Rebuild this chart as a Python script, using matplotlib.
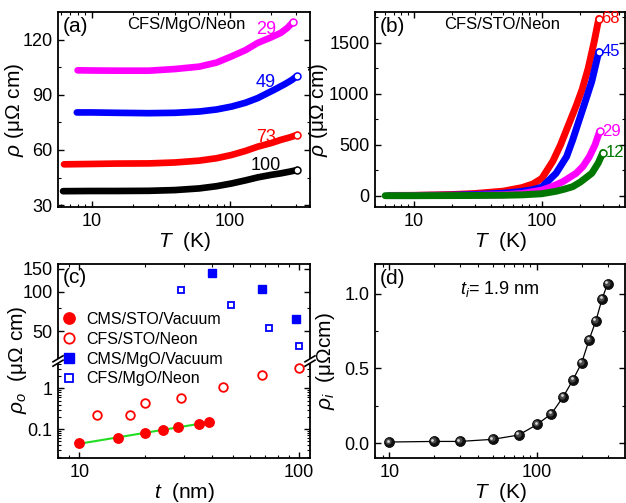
import numpy as np
import matplotlib
matplotlib.use("Agg")
import matplotlib.pyplot as plt
from matplotlib.lines import Line2D
from matplotlib.patches import Polygon
from matplotlib.transforms import offset_copy
from matplotlib.ticker import FixedLocator, NullFormatter, LogLocator

plt.rcParams['font.family'] = ['Liberation Sans', 'DejaVu Sans']
plt.rcParams['mathtext.fontset'] = 'custom'
plt.rcParams['mathtext.rm'] = 'Liberation Sans'
plt.rcParams['mathtext.it'] = 'Liberation Sans:italic'
plt.rcParams['axes.linewidth'] = 1.3

# ---- (a) CFS/MgO/Neon, rho vs T
a_T29 = [7.9, 10, 15, 26, 40, 60, 80, 103, 130, 159, 200, 234, 260, 286]
a_r29 = [103.3, 103.2, 103.1, 103.1, 104.0, 105.3, 107.5, 110.9, 114.3, 118.2, 121.3, 123.7, 126.3, 129.5]
a_T49 = [7.8, 10, 15, 26, 40, 60, 80, 103, 130, 159, 209, 250, 280, 304]
a_r49 = [80.4, 80.4, 80.2, 80.0, 80.2, 80.9, 82.0, 83.6, 85.7, 88.2, 92.7, 95.8, 98.0, 100.0]
a_T73 = [6.3, 10, 15, 26, 40, 60, 80, 103, 130, 159, 200, 234, 270, 308]
a_r73 = [52.2, 52.4, 52.6, 52.7, 53.2, 54.2, 55.5, 57.3, 59.5, 61.8, 63.8, 65.5, 66.8, 68.2]
a_T100 = [6.2, 10, 15, 26, 40, 60, 80, 103, 130, 159, 200, 234, 270, 308]
a_r100 = [37.6, 37.7, 37.7, 37.8, 38.2, 39.1, 40.3, 41.8, 43.5, 45.1, 46.5, 47.3, 48.2, 49.1]

# ---- (b) CFS/STO/Neon, rho vs T
b_T68 = [6.5, 10, 20, 30, 50, 70, 85, 100, 122, 140, 162, 185, 206, 230, 255, 278]
b_r68 = [3, 4, 12, 22, 45, 80, 115, 170, 340, 500, 700, 880, 1040, 1250, 1500, 1736]
b_T45 = [6.5, 10, 20, 30, 50, 67, 85, 100, 129, 156, 174, 192, 215, 245, 278]
b_r45 = [3, 3, 6, 12, 25, 40, 60, 85, 220, 384, 548, 712, 900, 1120, 1411]
b_T29 = [6.5, 10, 20, 30, 50, 70, 100, 120, 146, 185, 210, 235, 260, 282]
b_r29 = [2, 2, 3, 5, 10, 22, 55, 90, 138, 220, 290, 384, 500, 630]
b_T12 = [6.0, 10, 20, 30, 50, 70, 100, 130, 150, 174, 200, 245, 275, 299]
b_r12 = [1, 1, 2, 3, 5, 9, 20, 45, 65, 89, 135, 220, 320, 423]

# ---- (c) residual resistivity vs thickness
c_t_cms_sto = [10, 15, 20, 24, 28, 35, 39]
c_r_cms_sto = [0.0445, 0.061, 0.081, 0.093, 0.11, 0.133, 0.151]
c_t_cfs_sto = [12, 17, 20, 29, 45, 68, 100]
c_r_cfs_sto = [0.225, 0.225, 0.44, 0.59, 1.06, 2.13, 3.16]
c_t_cms_mgo = [40, 68, 97]
c_r_cms_mgo = [140, 104, 62]
c_t_cfs_mgo = [29, 49, 73, 100]
c_r_cfs_mgo = [103, 79, 52.5, 38.4]

# ---- (d) interface resistivity vs T
d_T = [10, 20, 30, 50, 75, 100, 125, 150, 175, 200, 225, 250, 275, 300]
d_r = [0.007, 0.011, 0.011, 0.025, 0.054, 0.125, 0.197, 0.309, 0.425, 0.537, 0.694, 0.821, 0.966, 1.069]

W, H = 626, 503
fig = plt.figure(figsize=(W / 100, H / 100), dpi=100)


def box(l, t, r, b):
    return [l / W, 1 - b / H, (r - l) / W, (b - t) / H]


def style(ax):
    ax.tick_params(which='both', direction='in', top=True, right=True, labelsize=13)
    ax.tick_params(which='major', length=4, width=1, pad=4)
    ax.tick_params(which='minor', length=2.5, width=0.8)


ylab = r'$\rho$ (μΩ cm)'
Tlab = r'$T$  (K)'
LAB = 15

# (a)
axa = fig.add_axes(box(58, 12, 310, 207))
for T, r, c in [(a_T29, a_r29, '#ff00ff'), (a_T49, a_r49, '#0000ff'),
                (a_T73, a_r73, '#ff0000'), (a_T100, a_r100, '#000000')]:
    axa.plot(T, r, color=c, lw=4.8, solid_capstyle='round')
    axa.plot(T[-1], r[-1], 'o', ms=5, mfc='white', mec=c, mew=1.1)
axa.set_xscale('log')
axa.set_xlim(5.7, 380)
axa.set_ylim(29, 135)
axa.set_yticks([30, 60, 90, 120])
axa.yaxis.set_minor_locator(FixedLocator([45, 75, 105]))
axa.set_xticks([10, 100])
axa.set_xticklabels(['10', '100'])
style(axa)
axa.set_ylabel(ylab, fontsize=LAB)
axa.yaxis.set_label_coords(-0.128, 0.5)
axa.set_xlabel(Tlab, fontsize=LAB, labelpad=0)
axa.text(0.02, 0.975, '(a)', transform=axa.transAxes, fontsize=15, va='top')
axa.text(0.51, 0.935, 'CFS/MgO/Neon', transform=axa.transAxes, fontsize=12,
         ha='center', va='center')
for lab, y, c in [('29', 125.5, '#ff00ff'), ('49', 96.5, '#0000ff'),
                  ('73', 67, '#ff0000'), ('100', 51.8, '#000000')]:
    axa.text(182, y, lab, fontsize=13, color=c, ha='center', va='center')

# (b)
axb = fig.add_axes(box(375, 12, 625, 207))
for T, r, c, lab in [(b_T68, b_r68, '#ff0000', '68'), (b_T45, b_r45, '#0000ff', '45'),
                     (b_T29, b_r29, '#ff00ff', '29'), (b_T12, b_r12, '#007700', '12')]:
    axb.plot(T, r, color=c, lw=5, solid_capstyle='round')
    axb.plot(T[-1], r[-1], 'o', ms=5, mfc='white', mec=c, mew=1.1)
    axb.annotate(lab, (T[-1], r[-1]), xytext=(2, 0), textcoords='offset points',
                 fontsize=12, color=c, va='center', ha='left')
axb.set_xscale('log')
axb.set_xlim(5, 445)
axb.set_ylim(-110, 1800)
axb.set_yticks([0, 500, 1000, 1500])
axb.yaxis.set_minor_locator(FixedLocator([250, 750, 1250, 1750]))
axb.set_xticks([10, 100])
axb.set_xticklabels(['10', '100'])
style(axb)
axb.set_ylabel(ylab, fontsize=LAB)
axb.yaxis.set_label_coords(-0.18, 0.5)
axb.set_xlabel(Tlab, fontsize=LAB, labelpad=0)
axb.text(0.02, 0.975, '(b)', transform=axb.transAxes, fontsize=15, va='top')
axb.text(0.51, 0.935, 'CFS/STO/Neon', transform=axb.transAxes, fontsize=12,
         ha='center', va='center')

# (c) broken log axis
axct = fig.add_axes(box(58, 264, 310, 361))
axcb = fig.add_axes(box(58, 361, 310, 458), sharex=axct)
red, blue = '#ff0000', '#0000ff'
h1, = axcb.plot(c_t_cms_sto, c_r_cms_sto, 'o', ms=6.8, color=red, mec=red, zorder=3)
h2, = axcb.plot(c_t_cfs_sto, c_r_cfs_sto, 'o', ms=6.2, mfc='white', mec=red, mew=1.3)
h3, = axct.plot(c_t_cms_mgo, c_r_cms_mgo, 's', ms=5.5, color=blue, mec=blue)
h4, = axct.plot(c_t_cfs_mgo, c_r_cfs_mgo, 's', ms=5, mfc='white', mec=blue, mew=1.3)
fit = np.polyfit(np.log10(c_t_cms_sto), np.log10(c_r_cms_sto), 1)
tt = np.array([c_t_cms_sto[0], c_t_cms_sto[-1]])
axcb.plot(tt, 10 ** np.polyval(fit, np.log10(tt)), color='#22dd22', lw=1.5, zorder=2)

axct.set_xscale('log')
axct.set_yscale('log')
axcb.set_yscale('log')
axct.set_xlim(8, 112)
axct.set_ylim(29.5, 163)
axcb.set_ylim(0.0194, 4.69)
axct.set_yticks([50, 100, 150])
axct.set_yticklabels(['50', '100', '150'])
axct.yaxis.set_minor_locator(FixedLocator([75]))
axct.yaxis.set_minor_formatter(NullFormatter())
axcb.set_yticks([0.1, 1])
axcb.set_yticklabels(['0.1', '1'])
axcb.yaxis.set_minor_locator(LogLocator(base=10, subs=np.arange(2, 10)))
axcb.yaxis.set_minor_formatter(NullFormatter())
axcb.set_xticks([10, 100])
axcb.set_xticklabels(['10', '100'])
style(axct)
style(axcb)
axct.spines['bottom'].set_visible(False)
axcb.spines['top'].set_visible(False)
axct.tick_params(which='both', bottom=False, labelbottom=False)
axcb.tick_params(which='both', top=False)
axcb.set_xlabel(r'$t$  (nm)', fontsize=LAB, labelpad=0)
fig.text(18 / W, 1 - 360 / H, r'$\rho_o$  (μΩ cm)', rotation=90, fontsize=LAB,
         ha='center', va='center')
axct.text(0.02, 0.96, '(c)', transform=axct.transAxes, fontsize=15, va='top')
fig.legend([h1, h2, h3, h4],
           ['CMS/STO/Vacuum', 'CFS/STO/Neon', 'CMS/MgO/Vacuum', 'CFS/MgO/Neon'],
           loc='upper left', bbox_to_anchor=(61 / W, 1 - 312 / H), frameon=False,
           fontsize=11.5, markerscale=1.2, handlelength=1.0, handletextpad=0.6,
           labelspacing=0.3, borderpad=0, borderaxespad=0)

# break marks
for xp in (58, 310):
    yp = 361
    dx, dy, g = 5, 3, 2.2
    gap = Polygon([((xp - dx) / W, 1 - (yp + dy - g) / H), ((xp + dx) / W, 1 - (yp - dy - g) / H),
                   ((xp + dx) / W, 1 - (yp - dy + g) / H), ((xp - dx) / W, 1 - (yp + dy + g) / H)],
                  closed=True, transform=fig.transFigure, fc='white', ec='none', zorder=10)
    fig.add_artist(gap)
    for s in (-g, g):
        fig.add_artist(Line2D([(xp - dx) / W, (xp + dx) / W],
                              [1 - (yp + dy + s) / H, 1 - (yp - dy + s) / H],
                              transform=fig.transFigure, color='black', lw=1.2, zorder=11))

# (d)
axd = fig.add_axes(box(375, 264, 625, 458))
axd.plot(d_T, d_r, color='black', lw=0.9, zorder=2)
axd.plot(d_T, d_r, 'o', ms=7.2, color='#101010', mec='black', mew=0.5, zorder=3)
axd.plot(d_T, d_r, 'o', ms=4.4, color='#4a4a4a', mec='none', zorder=4,
         transform=offset_copy(axd.transData, fig=fig, x=-0.7, y=0.7, units='points'))
axd.plot(d_T, d_r, 'o', ms=2.0, color='#d8d8d8', mec='none', zorder=5,
         transform=offset_copy(axd.transData, fig=fig, x=-1.1, y=1.1, units='points'))
axd.set_xscale('log')
axd.set_xlim(8, 393)
axd.set_ylim(-0.1, 1.2)
axd.set_yticks([0.0, 0.5, 1.0])
axd.set_yticklabels(['0.0', '0.5', '1.0'])
axd.yaxis.set_minor_locator(FixedLocator([0.25, 0.75]))
axd.set_xticks([10, 100])
axd.set_xticklabels(['10', '100'])
style(axd)
axd.set_ylabel(r'$\rho_i$  (μΩcm)', fontsize=LAB)
axd.yaxis.set_label_coords(-0.15, 0.5)
axd.set_xlabel(Tlab, fontsize=LAB, labelpad=0)
axd.text(0.02, 0.975, '(d)', transform=axd.transAxes, fontsize=15, va='top')
axd.text(0.5, 0.87, r'$t_i$= 1.9 nm', transform=axd.transAxes, fontsize=13,
         ha='center', va='center')

fig.savefig('out.png', dpi=100)
